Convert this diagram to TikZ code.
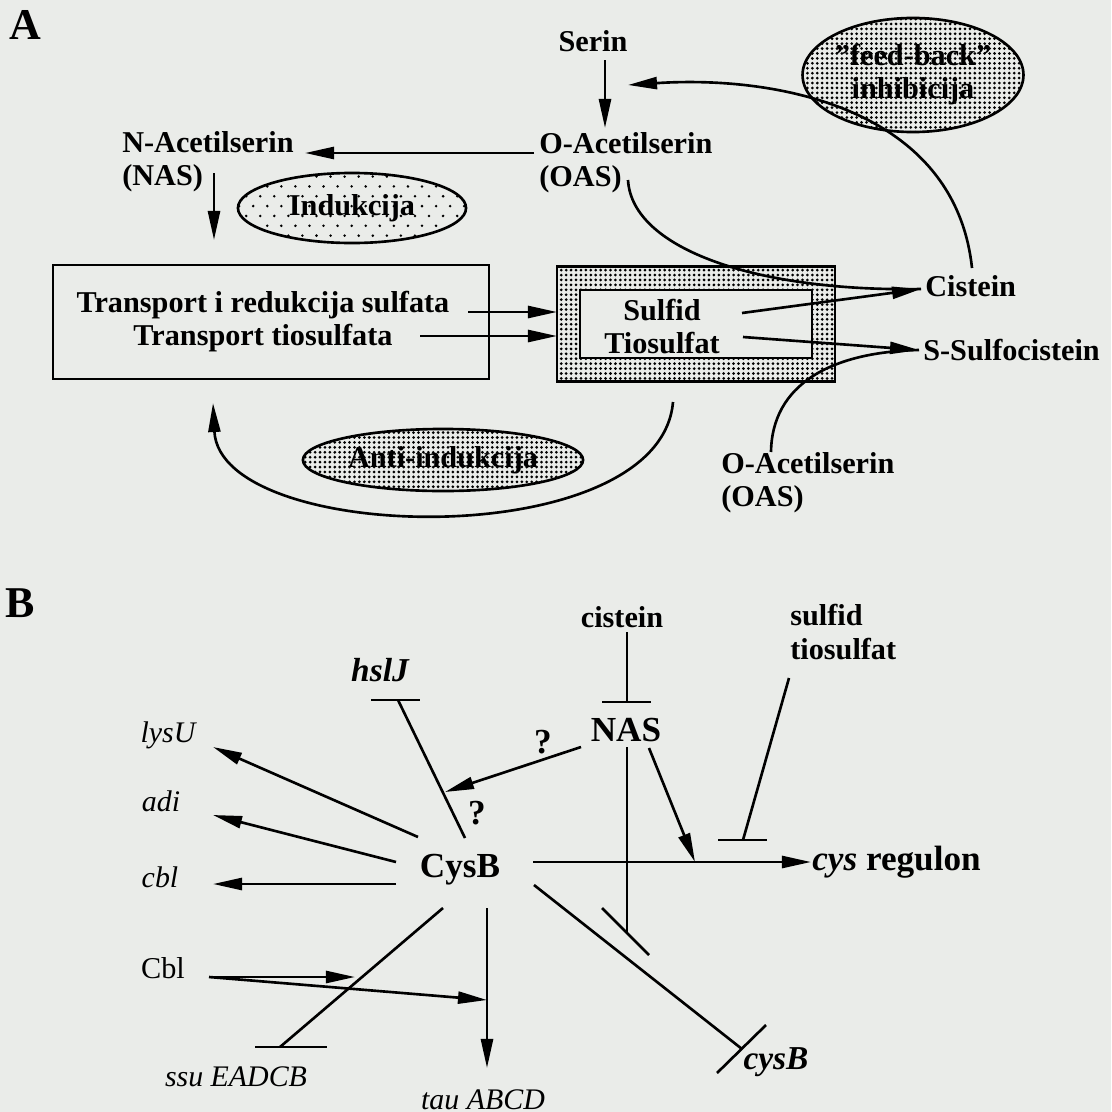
\documentclass[tikz,border=0pt]{standalone}
\usepackage{fontspec}
\setmainfont{Liberation Serif}
\usetikzlibrary{arrows.meta, shapes.geometric, patterns.meta}
\definecolor{paper}{RGB}{234,236,233}

\tikzdeclarepattern{
  name=densedots,
  type=uncolored,
  bottom left={(-0.7pt,-0.7pt)},
  top right={(0.7pt,0.7pt)},
  tile size={(1.4pt,1.4pt)},
  code={\fill (0pt,0pt) circle (0.43pt);}
}
\tikzdeclarepattern{
  name=sparsedots,
  type=uncolored,
  bottom left={(-1pt,-1pt)},
  top right={(3pt,4.6pt)},
  tile size={(4pt,5.6pt)},
  code={\fill (0pt,0pt) circle (0.4pt); \fill (2pt,2.8pt) circle (0.4pt);}
}

\tikzset{
  panel/.style={inner sep=0pt, font=\fontsize{12.5}{14}\selectfont\bfseries},
  txta/.style={inner sep=0pt, font=\fontsize{8.6}{9.4}\selectfont\bfseries},
  gene/.style={inner sep=0pt, font=\fontsize{8.5}{10}\selectfont\itshape},
  bgene/.style={inner sep=0pt, font=\fontsize{9.5}{11}\selectfont\bfseries\itshape},
  big/.style={inner sep=0pt, font=\fontsize{10}{12}\selectfont\bfseries},
  ell/.style={ellipse, draw, inner sep=0pt},
  act/.style={-{Triangle[length=2.9mm,width=1.2mm]}},
}

\begin{document}
\begin{tikzpicture}[x=0.01cm, y=-0.01cm, line width=0.75pt]
\fill[paper] (0,0) rectangle (1111,1112);
\useasboundingbox (0,0) rectangle (1111,1112);

% A
\node[panel] (labA) at (25,25) {A};
\node[txta] (serin) at (593,41) {Serin};
\node[txta, anchor=west, align=left] (oasT) at (538,163) {O-Acetilserin\\(OAS)};
\node[txta, anchor=west, align=left] (nasT) at (121,162) {N-Acetilserin\\(NAS)};
\node[ell, txta, pattern=sparsedots, minimum width=2.28cm, minimum height=0.70cm] (ind) at (352,208) {Indukcija};
\node[ell, txta, pattern=densedots, minimum width=2.08cm, minimum height=1.14cm, align=center] (fb) at (913,75) {"feed-back"\\inhibicija};
\node[txta, anchor=west] (cis) at (924,286) {Cistein};
\node[txta, anchor=west] (ssc) at (922,350) {S-Sulfocistein};
\node[draw, minimum width=4.36cm, minimum height=1.14cm, inner sep=0pt] (trbox) at (271,322) {};
\node[txta, align=center] (trT) at (263,322) {Transport i redukcija sulfata\\Transport tiosulfata};
\node[draw, pattern=densedots, minimum width=2.78cm, minimum height=1.15cm, inner sep=0pt] (sbox) at (696,324) {};
\node[draw, fill=paper, minimum width=2.32cm, minimum height=0.68cm, inner sep=0pt] (sin) at (696,324) {};
\node[txta, align=center] (sT) at (662,327) {Sulfid\\Tiosulfat};
\node[ell, txta, pattern=densedots, minimum width=2.8cm, minimum height=0.62cm] (anti) at (443,460) {Anti-indukcija};
\node[txta, anchor=west, align=left] (oasB) at (720,483) {O-Acetilserin\\(OAS)};

\coordinate (serD) at (605,60);
\coordinate (oasU) at (605,128);
\coordinate (oasL) at (534,153);
\coordinate (nasR) at (305,153);
\coordinate (nasD) at (214,173);
\coordinate (trU) at (214,240);
\coordinate (tr1) at (468,312);
\coordinate (sb1) at (557,312);
\coordinate (tr2) at (420,336);
\coordinate (sb2) at (557,336);
\coordinate (sulR) at (742,313);
\coordinate (cisL) at (921,289);
\coordinate (tioR) at (743,337);
\coordinate (sscL) at (919,350);
\coordinate (oasD) at (628,180);
\coordinate (cisU) at (972,268);
\coordinate (serR) at (628,85);
\coordinate (oasBU) at (771,452);
\coordinate (sbD) at (673,402);
\coordinate (trD) at (213,403);

\draw[act] (serD) -- (oasU);
\draw[act] (oasL) -- (nasR);
\draw[act] (nasD) -- (trU);
\draw[act] (tr1) -- (sb1);
\draw[act] (tr2) -- (sb2);
\draw (oasD) .. controls (632,250) and (760,292) .. (cisL);
\draw (oasBU) .. controls (772,385) and (830,352) .. (sscL);
\draw[act] (sulR) -- (cisL);
\draw[act] (tioR) -- (sscL);
\draw[act] (cisU) .. controls (955,110) and (780,75) .. (serR);
\draw[act] (sbD) .. controls (660,555) and (220,545) .. (trD);

% B
\node[panel] (labB) at (20,603) {B};
\node[bgene] (hsl) at (380,670) {hslJ};
\node[gene] (lys) at (168,735) {lysU};
\node[gene] (adi) at (161,801) {adi};
\node[gene] (cbl) at (160,877) {cbl};
\node[inner sep=0pt, font=\fontsize{8.6}{10}\selectfont] (cblp) at (163,968) {Cbl};
\node[gene] (ssu) at (236,1077) {ssu EADCB};
\node[gene] (tau) at (483,1100) {tau ABCD};
\node[big] (cysb) at (460,870) {CysB};
\node[big] (nasb) at (626,730) {NAS};
\node[txta] (cisb) at (622,617) {cistein};
\node[txta, anchor=west, align=left] (sulb) at (789,632) {sulfid\\tiosulfat};
\node[big, anchor=west] (reg) at (811,862) {\textit{cys} regulon};
\node[bgene] (cysbg) at (776,1062) {cysB};
\node[big] (q1) at (543,742) {?};
\node[big] (q2) at (477,813) {?};

\coordinate (hslA) at (371,700);
\coordinate (hslB) at (420,700);
\coordinate (hslM) at (398,700);
\coordinate (cysbT) at (465,838);
\coordinate (nasL) at (581,747);
\coordinate (hslX) at (445,792);
\coordinate (cysbL1) at (418,837);
\coordinate (lysR) at (213,747);
\coordinate (cysbL2) at (396,862);
\coordinate (adiR) at (213,815);
\coordinate (cysbL3) at (396,884);
\coordinate (cblR) at (213,884);
\coordinate (cblpR) at (209,977);
\coordinate (ssuX) at (355,977);
\coordinate (tauX) at (487,1000);
\coordinate (cysbD1) at (443,908);
\coordinate (ssuM) at (280,1047);
\coordinate (ssuA) at (255,1047);
\coordinate (ssuB) at (327,1047);
\coordinate (cysbD2) at (487,908);
\coordinate (tauU) at (487,1068);
\coordinate (cysbR) at (533,862);
\coordinate (regL) at (811,862);
\coordinate (cysbR2) at (534,885);
\coordinate (cysM) at (742,1049);
\coordinate (cysA) at (717,1073);
\coordinate (cysB2) at (766,1025);
\coordinate (cisD) at (627,632);
\coordinate (nasU) at (627,702);
\coordinate (nasUA) at (602,702);
\coordinate (nasUB) at (651,702);
\coordinate (nasD2) at (627,747);
\coordinate (nasE) at (627,932);
\coordinate (nasEA) at (602,908);
\coordinate (nasEB) at (649,955);
\coordinate (nasR2) at (649,748);
\coordinate (regX) at (695,862);
\coordinate (sulD) at (789,678);
\coordinate (sulM) at (743,840);
\coordinate (sulA) at (718,840);
\coordinate (sulB) at (767,840);

\draw (cysbT) -- (hslM);
\draw (hslA) -- (hslB);
\draw[act] (nasL) -- (hslX);
\draw[act] (cysbL1) -- (lysR);
\draw[act] (cysbL2) -- (adiR);
\draw[act] (cysbL3) -- (cblR);
\draw[act] (cblpR) -- (ssuX);
\draw[act] (cblpR) -- (tauX);
\draw (cysbD1) -- (ssuM);
\draw (ssuA) -- (ssuB);
\draw[act] (cysbD2) -- (tauU);
\draw[act] (cysbR) -- (regL);
\draw (cysbR2) -- (cysM);
\draw (cysA) -- (cysB2);
\draw (cisD) -- (nasU);
\draw (nasUA) -- (nasUB);
\draw (nasD2) -- (nasE);
\draw (nasEA) -- (nasEB);
\draw[act] (nasR2) -- (regX);
\draw (sulD) -- (sulM);
\draw (sulA) -- (sulB);
\end{tikzpicture}
\end{document}
